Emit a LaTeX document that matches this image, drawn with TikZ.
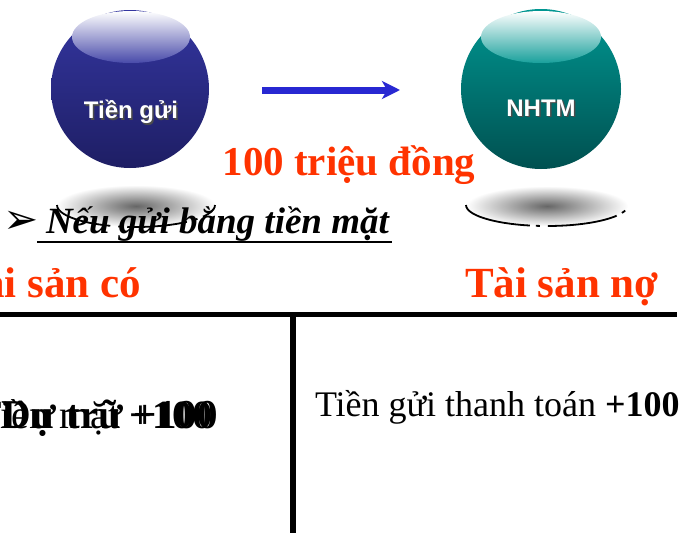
\documentclass[tikz,border=0pt]{standalone}
\usepackage{fontspec}
\setmainfont{Liberation Serif}
\newfontfamily\arialf{Liberation Sans}
\newfontfamily\dejavuf{DejaVu Sans}
\usetikzlibrary{arrows.meta}
\definecolor{redo}{RGB}{255,51,0}
\definecolor{blueA}{RGB}{52,54,160}
\definecolor{blueB}{RGB}{30,30,100}
\definecolor{tealA}{RGB}{0,150,145}
\definecolor{tealB}{RGB}{0,80,80}
\definecolor{arrowblue}{RGB}{40,40,210}
\tikzset{
  lbl/.style={inner sep=0pt, outer sep=0pt},
  ballt/.style={lbl, text=white, font=\arialf\bfseries\fontsize{24}{28}\selectfont},
  ballsh/.style={lbl, text=black!70, font=\arialf\bfseries\fontsize{24}{28}\selectfont},
  head/.style={lbl, text=redo, font=\bfseries\fontsize{43}{50}\selectfont},
  body/.style={lbl, font=\fontsize{36}{42}\selectfont},
  lbody/.style={lbl, font=\fontsize{40}{46}\selectfont},
  rule/.style={line width=5pt, black},
}
\begin{document}
\begin{tikzpicture}[x=1pt,y=-1pt]
\useasboundingbox (0,0) rectangle (691,533);
\begin{scope}
\clip (0,0) rectangle (691,533);
% shadows under spheres
\shade[inner color=black!60, outer color=white] (136,206) ellipse (80 and 21);
\draw[line width=1.8pt, dash pattern=on 60pt off 8pt on 3pt off 6pt] (57,205) arc (180:0:79 and 22);
\shade[inner color=black!60, outer color=white] (547,206) ellipse (81 and 20);
\draw[line width=1.8pt, dash pattern=on 70pt off 6pt on 4pt off 8pt] (466,205) arc (180:0:81 and 21);
% spheres
\shade[top color=blueA, bottom color=blueB] (130,89) circle (79);
\shade[top color=white, bottom color=blueA!90] (131,37) ellipse (59 and 26);
\shade[top color=tealA, bottom color=tealB] (541,89) circle (80);
\shade[top color=white, bottom color=tealA!90] (541,37) ellipse (60 and 26);
\node[ballsh] (t1s) at (132.5,113.5) {Tiền gửi};
\node[ballt] (t1) at (131,112) {Tiền gửi};
\node[ballsh] (t2s) at (542.5,109.5) {NHTM};
\node[ballt] (t2) at (541,108) {NHTM};
% arrow
\coordinate (a1) at (262,90);
\coordinate (a2) at (400,90);
\draw[arrowblue, line width=7pt, -{Stealth[length=18pt,width=18pt,inset=5pt]}] (a1) -- (a2);
% amount
\node[lbl, anchor=base, text=redo, font=\bfseries\fontsize{41}{48}\selectfont] (amt) at (349,175) {100 triệu đồng};
% bullet line
\node[lbl, anchor=center, font=\dejavuf\fontsize{42}{46}\selectfont] (bul) at (21,222) {➢};
\node[lbl, anchor=base west, font=\bfseries\itshape\fontsize{37}{42}\selectfont] (cash) at (46,233) {Nếu gửi bằng tiền mặt};
\draw[line width=2.5pt] (37,242) -- (392,242);
% headings
\node[head, anchor=base east] (assets) at (141,297) {Tài sản có};
\node[head, anchor=base west] (liab) at (465,297) {Tài sản nợ};
% T account lines
\coordinate (h1) at (0,314.5);
\coordinate (h2) at (677,314.5);
\coordinate (v1) at (292.5,314.5);
\coordinate (v2) at (292.5,533);
\draw[rule] (h1) -- (h2);
\draw[line width=6pt] (v1) -- (v2);
% entries
\node[lbody, anchor=base east] (l1) at (212,428) {Tiền mặt \textbf{+100}};
\node[lbody, anchor=base east, font=\fontsize{41}{46}\selectfont] (l2) at (218,428) {\textbf{Dự trữ +100}};
\node[body, anchor=base west] (r1) at (315,416) {Tiền gửi thanh toán \textbf{+100}};
\end{scope}
\end{tikzpicture}
\end{document}
